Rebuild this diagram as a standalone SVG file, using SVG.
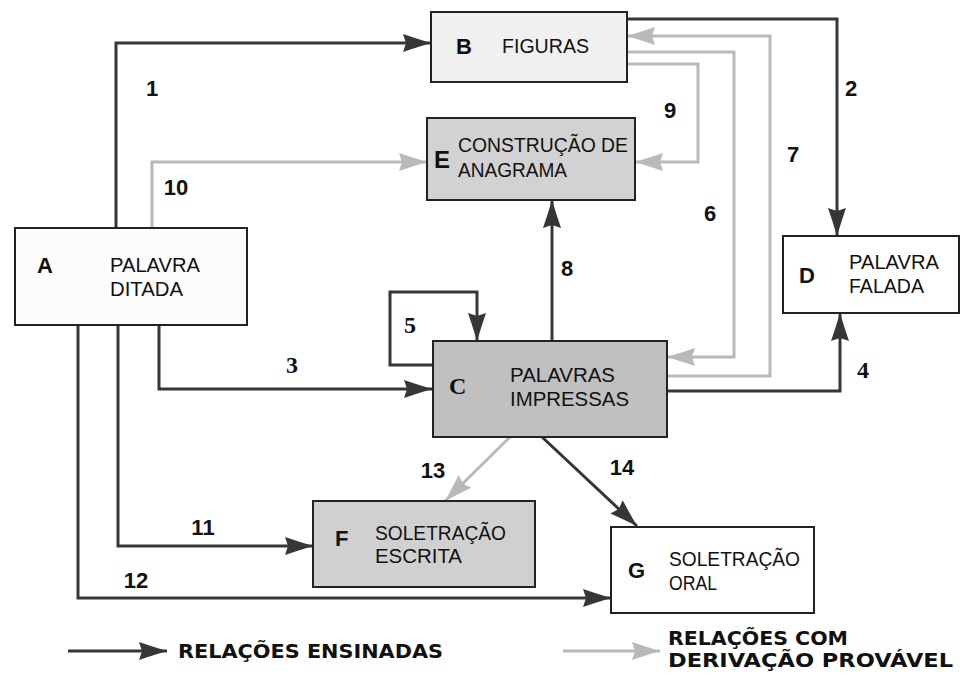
<svg xmlns="http://www.w3.org/2000/svg" width="960" height="673" viewBox="0 0 960 673">
<style>
.box{stroke:#222;stroke-width:2}
.t{font-family:"Liberation Sans",Arial,sans-serif;font-size:20px;fill:#111}
.k{font-family:"Liberation Sans",Arial,sans-serif;font-size:22px;font-weight:bold;fill:#111}
.n{font-family:"Liberation Sans",Arial,sans-serif;font-size:22px;font-weight:bold;fill:#111}
.ns{font-family:"Liberation Serif","Times New Roman",serif;font-size:24px;font-weight:bold;fill:#111}
.lg{font-family:"DejaVu Sans","Liberation Sans",sans-serif;font-size:19px;font-weight:bold;fill:#111}
.d{fill:none;stroke:#363636;stroke-width:3}
.g{fill:none;stroke:#b9b9b9;stroke-width:3}
</style>
<defs>
<marker id="ad" markerUnits="userSpaceOnUse" orient="auto" overflow="visible" markerWidth="1" markerHeight="1" refX="0" refY="0">
<path d="M0,0 L-16,-5 L-28,-9 L-25,0 L-28,9 L-16,5 Z" fill="#363636"/>
</marker>
<marker id="ag" markerUnits="userSpaceOnUse" orient="auto" overflow="visible" markerWidth="1" markerHeight="1" refX="0" refY="0">
<path d="M0,0 L-16,-5 L-28,-9 L-25,0 L-28,9 L-16,5 Z" fill="#b9b9b9"/>
</marker>
</defs>
<rect width="960" height="673" fill="#ffffff"/>
<g id="connectors">
<path id="c1" class="d" d="M116,228 V43 H431" marker-end="url(#ad)"/>
<path id="c2" class="d" d="M627,19 H837 V236" marker-end="url(#ad)"/>
<path id="c3" class="d" d="M159,325 V389 H432" marker-end="url(#ad)"/>
<path id="c4" class="d" d="M667,391 H840 V313" marker-end="url(#ad)"/>
<path id="c5" class="d" d="M432,365 H390 V292 H477 V341" marker-end="url(#ad)"/>
<path id="c6" class="g" d="M627,52 H734 V357 H667" marker-end="url(#ag)"/>
<path id="c7" class="g" d="M667,376 H770 V36 H627" marker-end="url(#ag)"/>
<path id="c8" class="d" d="M552,341 V200" marker-end="url(#ad)"/>
<path id="c9" class="g" d="M627,64 H698 V162 H635" marker-end="url(#ag)"/>
<path id="c10" class="g" d="M152,228 V162 H427" marker-end="url(#ag)"/>
<path id="c11" class="d" d="M118,325 V546 H313" marker-end="url(#ad)"/>
<path id="c12" class="d" d="M78,325 V598 H611" marker-end="url(#ad)"/>
<path id="c13" class="g" d="M510,437 L445,501" marker-end="url(#ag)"/>
<path id="c14" class="d" d="M542,437 L637,526" marker-end="url(#ad)"/>
<text class="n" x="152" y="96" text-anchor="middle">1</text>
<text class="n" x="851" y="96" text-anchor="middle">2</text>
<text class="ns" x="292" y="373" text-anchor="middle">3</text>
<text class="ns" x="863" y="378" text-anchor="middle">4</text>
<text class="ns" x="410" y="333" text-anchor="middle">5</text>
<text class="n" x="710" y="221" text-anchor="middle">6</text>
<text class="n" x="793" y="162" text-anchor="middle">7</text>
<text class="n" x="567" y="276" text-anchor="middle">8</text>
<text class="n" x="670" y="118" text-anchor="middle">9</text>
<text class="n" x="176" y="195" text-anchor="middle">10</text>
<text class="n" x="203" y="535" text-anchor="middle">11</text>
<text class="n" x="136" y="588" text-anchor="middle">12</text>
<text class="n" x="433" y="478" text-anchor="middle">13</text>
<text class="n" x="622" y="475" text-anchor="middle">14</text>
</g>
<g id="nodeA">
<rect class="box" x="15" y="228" width="232" height="97" fill="#fcfcfc"/>
<text class="k" x="37" y="273">A</text>
<text class="t" x="110" y="272" textLength="90" lengthAdjust="spacingAndGlyphs">PALAVRA</text>
<text class="t" x="110" y="296" textLength="73" lengthAdjust="spacingAndGlyphs">DITADA</text>
</g>
<g id="nodeB">
<rect class="box" x="431" y="12" width="196" height="70" fill="#f0f0f0"/>
<text class="k" x="456" y="54">B</text>
<text class="t" x="502" y="53" textLength="87" lengthAdjust="spacingAndGlyphs">FIGURAS</text>
</g>
<g id="nodeE">
<rect class="box" x="427" y="118" width="208" height="82" fill="#d2d2d2"/>
<text class="k" x="434" y="168" style="font-size:24px">E</text>
<text class="t" x="458" y="152" textLength="170" lengthAdjust="spacingAndGlyphs">CONSTRUÇÃO DE</text>
<text class="t" x="458" y="177" textLength="109" lengthAdjust="spacingAndGlyphs">ANAGRAMA</text>
</g>
<g id="nodeC">
<rect class="box" x="433" y="341" width="234" height="96" fill="#c0c0c0"/>
<text class="k" x="449" y="394" style="font-family:'Liberation Serif',serif;font-size:24px">C</text>
<text class="t" x="510" y="382" textLength="105" lengthAdjust="spacingAndGlyphs">PALAVRAS</text>
<text class="t" x="510" y="406" textLength="119" lengthAdjust="spacingAndGlyphs">IMPRESSAS</text>
</g>
<g id="nodeD">
<rect class="box" x="783" y="236" width="176" height="77" fill="#ffffff"/>
<text class="k" x="799" y="283">D</text>
<text class="t" x="849" y="269" textLength="90" lengthAdjust="spacingAndGlyphs">PALAVRA</text>
<text class="t" x="849" y="293" textLength="75" lengthAdjust="spacingAndGlyphs">FALADA</text>
</g>
<g id="nodeF">
<rect class="box" x="313" y="501" width="222" height="86" fill="#d0d0d0"/>
<text class="k" x="335" y="546">F</text>
<text class="t" x="375" y="540" textLength="131" lengthAdjust="spacingAndGlyphs">SOLETRAÇÃO</text>
<text class="t" x="375" y="563" textLength="87" lengthAdjust="spacingAndGlyphs">ESCRITA</text>
</g>
<g id="nodeG">
<rect class="box" x="611" y="527" width="203" height="86" fill="#ffffff"/>
<text class="k" x="628" y="578">G</text>
<text class="t" x="669" y="566" textLength="131" lengthAdjust="spacingAndGlyphs">SOLETRAÇÃO</text>
<text class="t" x="669" y="590" textLength="48" lengthAdjust="spacingAndGlyphs">ORAL</text>
</g>
<g id="legend">
<path class="d" d="M68,651 H167" marker-end="url(#ad)"/>
<text class="lg" x="178" y="658" textLength="265" lengthAdjust="spacingAndGlyphs">RELAÇÕES ENSINADAS</text>
<path class="g" d="M563,651 H660" marker-end="url(#ag)"/>
<text class="lg" x="668" y="645" textLength="180" lengthAdjust="spacingAndGlyphs">RELAÇÕES COM</text>
<text class="lg" x="668" y="667" textLength="285" lengthAdjust="spacingAndGlyphs">DERIVAÇÃO PROVÁVEL</text>
</g>
</svg>
